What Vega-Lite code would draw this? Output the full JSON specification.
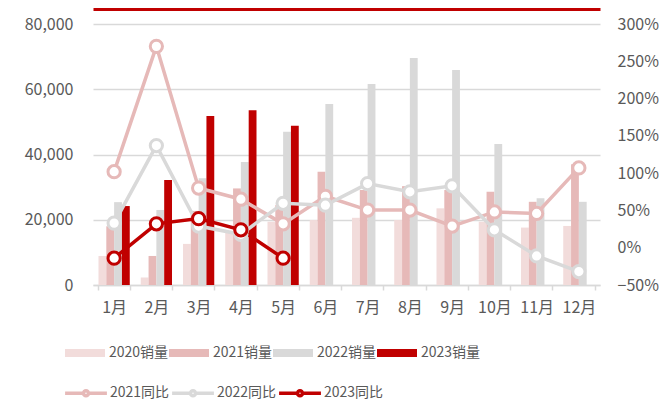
{
  "$schema": "https://vega.github.io/schema/vega-lite/v6.json",
  "width": 507,
  "height": 261,
  "autosize": "none",
  "padding": {"left": 93, "top": 24, "right": 63, "bottom": 116},
  "config": {
    "view": {"stroke": null},
    "font": "Noto Sans CJK SC",
    "axis": {"labelFont": "Noto Sans CJK SC", "labelColor": "#595959", "labelFontSize": 16, "title": null},
    "legend": {"labelFont": "Noto Sans CJK SC", "labelColor": "#595959", "labelFontSize": 14}
  },
  "datasets": {
    "sales": [
      {"month": "1月", "series": "2020销量", "value": 8900},
      {"month": "2月", "series": "2020销量", "value": 2300},
      {"month": "3月", "series": "2020销量", "value": 12600},
      {"month": "4月", "series": "2020销量", "value": 16300},
      {"month": "5月", "series": "2020销量", "value": 19400},
      {"month": "6月", "series": "2020销量", "value": 19900},
      {"month": "7月", "series": "2020销量", "value": 20600},
      {"month": "8月", "series": "2020销量", "value": 19900},
      {"month": "9月", "series": "2020销量", "value": 23500},
      {"month": "10月", "series": "2020销量", "value": 19400},
      {"month": "11月", "series": "2020销量", "value": 17600},
      {"month": "12月", "series": "2020销量", "value": 18100},
      {"month": "1月", "series": "2021销量", "value": 18000},
      {"month": "2月", "series": "2021销量", "value": 8900},
      {"month": "3月", "series": "2021销量", "value": 22700},
      {"month": "4月", "series": "2021销量", "value": 29600},
      {"month": "5月", "series": "2021销量", "value": 24500},
      {"month": "6月", "series": "2021销量", "value": 34700},
      {"month": "7月", "series": "2021销量", "value": 29100},
      {"month": "8月", "series": "2021销量", "value": 30300},
      {"month": "9月", "series": "2021销量", "value": 29100},
      {"month": "10月", "series": "2021销量", "value": 28600},
      {"month": "11月", "series": "2021销量", "value": 25500},
      {"month": "12月", "series": "2021销量", "value": 37000},
      {"month": "1月", "series": "2022销量", "value": 25400},
      {"month": "2月", "series": "2022销量", "value": 23000},
      {"month": "3月", "series": "2022销量", "value": 32700},
      {"month": "4月", "series": "2022销量", "value": 37700},
      {"month": "5月", "series": "2022销量", "value": 47000},
      {"month": "6月", "series": "2022销量", "value": 55500},
      {"month": "7月", "series": "2022销量", "value": 61600},
      {"month": "8月", "series": "2022销量", "value": 69600},
      {"month": "9月", "series": "2022销量", "value": 65900},
      {"month": "10月", "series": "2022销量", "value": 43200},
      {"month": "11月", "series": "2022销量", "value": 26600},
      {"month": "12月", "series": "2022销量", "value": 25500},
      {"month": "1月", "series": "2023销量", "value": 24200},
      {"month": "2月", "series": "2023销量", "value": 32200},
      {"month": "3月", "series": "2023销量", "value": 51800},
      {"month": "4月", "series": "2023销量", "value": 53600},
      {"month": "5月", "series": "2023销量", "value": 48800}
    ],
    "yoy": [
      {"month": "1月", "series": "2021同比", "pct": 1.02},
      {"month": "2月", "series": "2021同比", "pct": 2.70},
      {"month": "3月", "series": "2021同比", "pct": 0.80},
      {"month": "4月", "series": "2021同比", "pct": 0.65},
      {"month": "5月", "series": "2021同比", "pct": 0.32},
      {"month": "6月", "series": "2021同比", "pct": 0.69},
      {"month": "7月", "series": "2021同比", "pct": 0.505},
      {"month": "8月", "series": "2021同比", "pct": 0.505},
      {"month": "9月", "series": "2021同比", "pct": 0.29},
      {"month": "10月", "series": "2021同比", "pct": 0.48},
      {"month": "11月", "series": "2021同比", "pct": 0.46},
      {"month": "12月", "series": "2021同比", "pct": 1.07},
      {"month": "1月", "series": "2022同比", "pct": 0.33},
      {"month": "2月", "series": "2022同比", "pct": 1.37},
      {"month": "3月", "series": "2022同比", "pct": 0.29},
      {"month": "4月", "series": "2022同比", "pct": 0.18},
      {"month": "5月", "series": "2022同比", "pct": 0.595},
      {"month": "6月", "series": "2022同比", "pct": 0.57},
      {"month": "7月", "series": "2022同比", "pct": 0.86},
      {"month": "8月", "series": "2022同比", "pct": 0.75},
      {"month": "9月", "series": "2022同比", "pct": 0.83},
      {"month": "10月", "series": "2022同比", "pct": 0.24},
      {"month": "11月", "series": "2022同比", "pct": -0.11},
      {"month": "12月", "series": "2022同比", "pct": -0.32},
      {"month": "1月", "series": "2023同比", "pct": -0.14},
      {"month": "2月", "series": "2023同比", "pct": 0.32},
      {"month": "3月", "series": "2023同比", "pct": 0.39},
      {"month": "4月", "series": "2023同比", "pct": 0.24},
      {"month": "5月", "series": "2023同比", "pct": -0.14}
    ]
  },
  "layer": [
    {
      "data": {"name": "sales"},
      "mark": {"type": "bar"},
      "encoding": {
        "x": {
          "field": "month", "type": "nominal",
          "sort": ["1月","2月","3月","4月","5月","6月","7月","8月","9月","10月","11月","12月"],
          "scale": {"paddingInner": 0.26, "paddingOuter": 0.13},
          "axis": {"orient": "bottom", "tickBand": "extent", "domainColor": "#d9d9d9", "domainWidth": 1.5, "tickColor": "#d9d9d9", "tickWidth": 1.5, "tickSize": 5, "labelAngle": 0, "labelPadding": 9, "grid": false, "title": null}
        },
        "xOffset": {
          "field": "series", "type": "nominal",
          "sort": ["2020销量","2021销量","2022销量","2023销量"],
          "scale": {"paddingInner": 0, "paddingOuter": 0}
        },
        "y": {
          "field": "value", "type": "quantitative",
          "scale": {"domain": [0, 80000], "nice": false},
          "axis": {"orient": "left", "values": [0, 20000, 40000, 60000, 80000], "format": ",.0f", "grid": true, "gridColor": "#d9d9d9", "gridWidth": 1.5, "domain": false, "ticks": false, "labelPadding": 20, "title": null}
        },
        "fill": {
          "field": "series", "type": "nominal",
          "scale": {"domain": ["2020销量","2021销量","2022销量","2023销量"], "range": ["#f2dcdb","#e6b9b8","#d9d9d9","#c00000"]},
          "legend": {"orient": "none", "legendX": -28, "legendY": 309, "direction": "horizontal", "columns": 4, "title": null, "symbolType": "M-1,-0.2H1V0.2H-1Z", "symbolSize": 1600, "symbolStrokeWidth": 0, "labelOffset": 4, "columnPadding": 0}
        }
      }
    },
    {
      "data": {"name": "yoy"},
      "mark": {"type": "line", "strokeWidth": 3.5, "point": {"filled": false, "fill": "white", "size": 150, "strokeWidth": 3}},
      "encoding": {
        "x": {
          "field": "month", "type": "nominal",
          "sort": ["1月","2月","3月","4月","5月","6月","7月","8月","9月","10月","11月","12月"],
          "axis": {"orient": "top", "labels": false, "ticks": false, "domain": true, "domainColor": "#c00000", "domainWidth": 3, "offset": 15, "grid": false, "title": null}
        },
        "y": {
          "field": "pct", "type": "quantitative",
          "scale": {"domain": [-0.5, 3], "nice": false},
          "axis": {"orient": "right", "values": [-0.5, 0, 0.5, 1, 1.5, 2, 2.5, 3], "format": ".0%", "grid": false, "domain": false, "ticks": false, "labelPadding": 17, "title": null}
        },
        "color": {
          "field": "series", "type": "nominal",
          "scale": {"domain": ["2021同比","2022同比","2023同比"], "range": ["#e6b9b8","#d9d9d9","#c00000"]},
          "legend": {"orient": "none", "legendX": -30, "legendY": 346, "direction": "horizontal", "columns": 3, "title": null, "symbolType": "M-1,0H-0.12M0.12,0H1M0.12,0A0.12,0.12,0,1,1,-0.12,0A0.12,0.12,0,1,1,0.12,0", "symbolSize": 1750, "symbolStrokeWidth": 3.5, "labelOffset": 1, "columnPadding": -11, "encode": {"symbols": {"update": {"fill": {"value": "white"}, "strokeWidth": {"value": 3.5}}}}}
        }
      }
    }
  ],
  "resolve": {"scale": {"y": "independent"}, "axis": {"x": "independent"}}
}
